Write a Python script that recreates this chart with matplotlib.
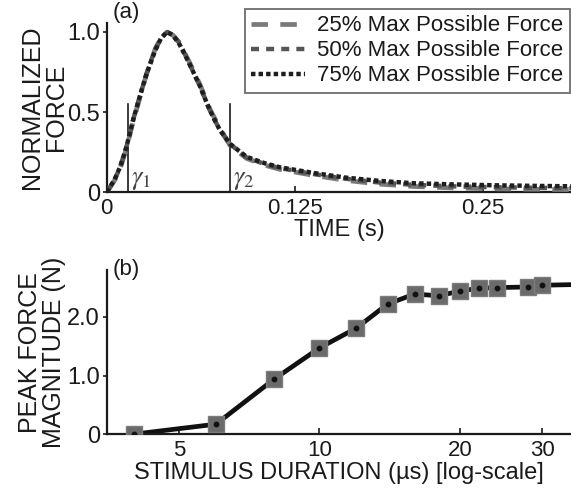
#!/usr/bin/env python3

'''
plot.py
  Two panel figure:
    (a) normalized force twitch profiles for three force levels
    (b) peak force magnitude versus stimulus duration (log scale)
  Saves the result to out.png
'''

#
#   Packages and modules
#
import matplotlib
matplotlib.use('Agg')
from matplotlib import pyplot as plt


#
#   Data
#

# panel (a): time samples (s) and normalized force per force level
time_s = [0, 0.005, 0.009, 0.013, 0.0175, 0.022, 0.0265, 0.032, 0.036,
          0.040, 0.044, 0.0485, 0.055, 0.062, 0.0685, 0.075, 0.082, 0.093,
          0.105, 0.115, 0.137, 0.159, 0.181, 0.204, 0.23, 0.26, 0.29, 0.31]

force_25 = [0, 0.07, 0.15, 0.27, 0.44, 0.59, 0.74, 0.89, 0.96,
            1.0, 0.98, 0.93, 0.81, 0.67, 0.52, 0.40, 0.29, 0.21,
            0.168, 0.142, 0.105, 0.073, 0.05, 0.035, 0.026, 0.02, 0.017,
            0.015]

force_50 = [0, 0.07, 0.16, 0.28, 0.45, 0.60, 0.74, 0.89, 0.96,
            1.0, 0.98, 0.93, 0.80, 0.66, 0.51, 0.39, 0.30, 0.215,
            0.175, 0.15, 0.113, 0.083, 0.06, 0.045, 0.036, 0.03, 0.026,
            0.024]

force_75 = [0, 0.075, 0.16, 0.28, 0.45, 0.60, 0.74, 0.88, 0.96,
            1.0, 0.98, 0.92, 0.80, 0.66, 0.51, 0.39, 0.30, 0.22,
            0.18, 0.155, 0.12, 0.09, 0.07, 0.055, 0.048, 0.042, 0.038,
            0.036]

series_labels = ['25% Max Possible Force',
                 '50% Max Possible Force',
                 '75% Max Possible Force']

# gamma markers (s)
gamma_times = [0.014, 0.082]
gamma_labels = [r'$\gamma_1$', r'$\gamma_2$']

# panel (b): stimulus duration (us) and peak force (N)
duration_us = [4, 6, 8, 10, 12, 14, 16, 18, 20, 22, 24, 28, 30, 34.6]
peak_force = [0.0, 0.17, 0.94, 1.47, 1.81, 2.22, 2.39, 2.36, 2.44,
              2.49, 2.50, 2.51, 2.54, 2.55]
n_markers = 13   # the last point only carries the line to the edge


#
#   Functions
#

def style_axes(ax):
    '''Keep only the left and bottom spines, like the original.'''
    for side in ['top', 'right']:
        ax.spines[side].set_visible(False)
    for side in ['left', 'bottom']:
        ax.spines[side].set_linewidth(1.6)
        ax.spines[side].set_color('#1a1a1a')
    ax.tick_params(axis='x', direction='in', length=4, width=1.2,
                   labelsize=16, pad=4, colors='#1a1a1a')
    ax.tick_params(axis='y', direction='out', length=3, width=1.2,
                   labelsize=17, pad=2, colors='#1a1a1a')


def draw_panel_a(fig):
    ax = fig.add_axes([0.187, 0.608, 0.813, 0.345])
    style_axes(ax)

    ax.plot(time_s, force_25, color='#7a7a7a', lw=3.4,
            dashes=(3.5, 2.6), label=series_labels[0], zorder=3)
    ax.plot(time_s, force_50, color='#555555', lw=3.2,
            dashes=(1.8, 1.6), label=series_labels[1], zorder=4)
    ax.plot(time_s, force_75, color='#1e1e1e', lw=3.2,
            dashes=(1.0, 0.7), label=series_labels[2], zorder=5)

    # gamma lines and labels
    for t, lab in zip(gamma_times, gamma_labels):
        ax.plot([t, t], [0, 0.55], color='#1a1a1a', lw=1.2, zorder=2)
        ax.text(t + 0.002, 0.0, lab, fontsize=19, color='#444444',
                ha='left', va='bottom')

    ax.set_xlim(0, 0.3085)
    ax.set_ylim(0, 1.056)
    ax.set_xticks([0, 0.125, 0.25])
    ax.set_xticklabels(['0', '0.125', '0.25'])
    ax.set_yticks([0, 0.5, 1.0])
    ax.set_yticklabels(['0', '0.5', '1.0'])

    ax.set_xlabel('TIME (s)', fontsize=17, color='#1a1a1a', labelpad=0)
    ax.set_ylabel('NORMALIZED\nFORCE', fontsize=18, color='#1a1a1a',
                  labelpad=-1, linespacing=1.0)

    ax.text(0.012, 1.0, '(a)', transform=ax.transAxes, fontsize=16,
            color='#1a1a1a', ha='left', va='bottom')

    leg = ax.legend(loc='upper left', bbox_to_anchor=(0.297, 1.085),
                    fontsize=16, frameon=True, fancybox=False,
                    handlelength=2.4, handletextpad=0.55,
                    labelspacing=0.18, borderpad=0.3,
                    borderaxespad=0)
    leg.get_frame().set_edgecolor('#555555')
    leg.get_frame().set_linewidth(1.4)
    for txt in leg.get_texts():
        txt.set_color('#1a1a1a')


def draw_panel_b(fig):
    ax = fig.add_axes([0.187, 0.114, 0.813, 0.335])
    style_axes(ax)

    ax.plot(duration_us, peak_force, color='#111111', lw=3.4, zorder=2)
    ax.plot(duration_us[:n_markers], peak_force[:n_markers],
            ls='none', marker='s', markersize=11,
            markerfacecolor='#6a6a6a', markeredgecolor='#7c7c7c',
            markeredgewidth=1.0, zorder=3)
    ax.plot(duration_us[:n_markers], peak_force[:n_markers],
            ls='none', marker='o', markersize=3.2,
            color='#111111', zorder=4)

    ax.set_xscale('log')
    ax.set_xlim(3.5, 34.6)
    ax.set_ylim(0, 2.8)
    ax.set_xticks([5, 10, 20, 30])
    ax.set_xticklabels(['5', '10', '20', '30'])
    ax.minorticks_off()
    ax.set_yticks([0, 1.0, 2.0])
    ax.set_yticklabels(['0', '1.0', '2.0'])

    ax.set_xlabel('STIMULUS DURATION (\u00b5s) [log-scale]', fontsize=17,
                  color='#1a1a1a', labelpad=1)
    ax.set_ylabel('PEAK FORCE\nMAGNITUDE (N)', fontsize=18,
                  color='#1a1a1a', labelpad=1, linespacing=1.0)

    ax.text(0.012, 0.94, '(b)', transform=ax.transAxes, fontsize=16,
            color='#1a1a1a', ha='left', va='bottom')


def main():
    plt.rcParams['font.family'] = ['Liberation Sans', 'DejaVu Sans']
    plt.rcParams['mathtext.fontset'] = 'stix'

    fig = plt.figure(figsize=(5.71, 4.90), dpi=100)
    draw_panel_a(fig)
    draw_panel_b(fig)
    fig.savefig('out.png', dpi=100)
    plt.close(fig)


if __name__ == "__main__":
    main()
